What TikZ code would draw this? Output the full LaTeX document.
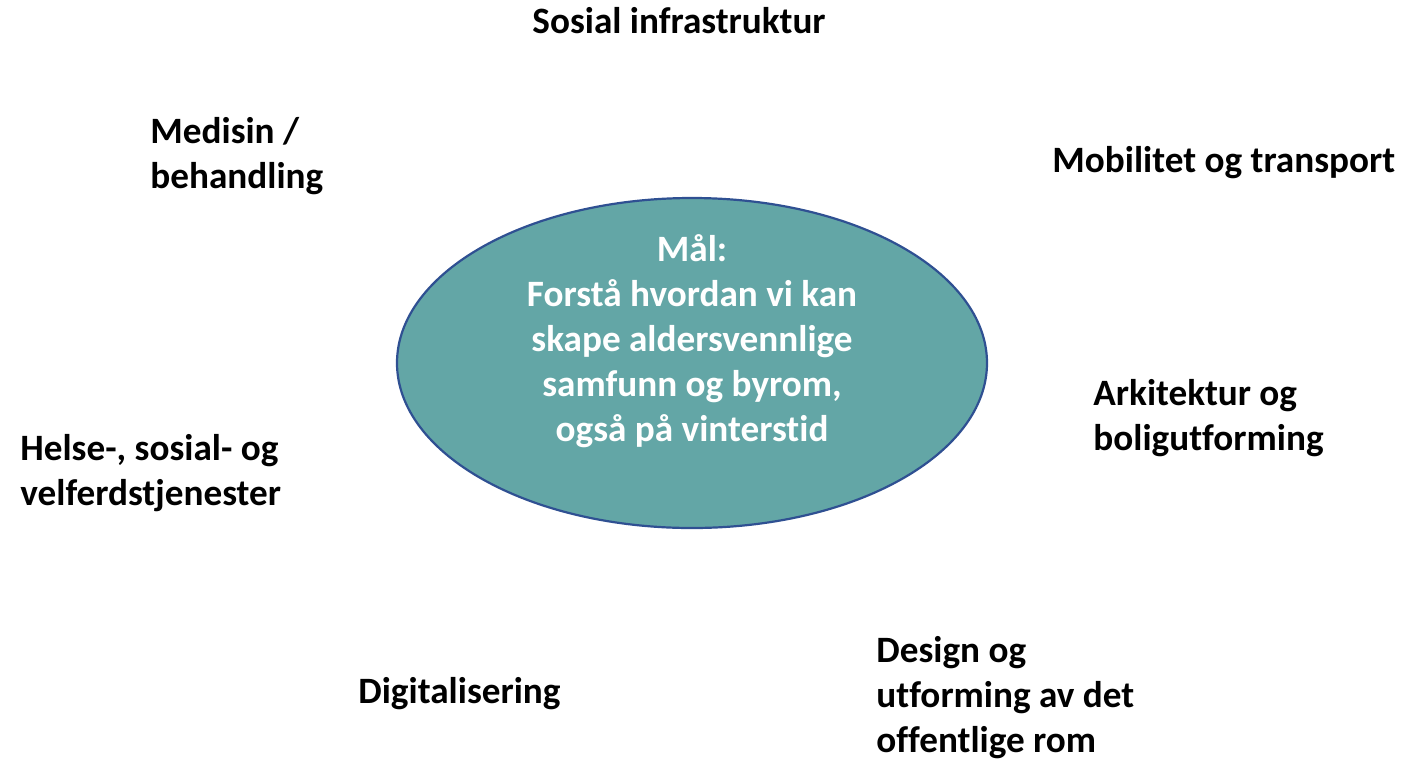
\documentclass[tikz,border=0pt]{standalone}
\usepackage{fontspec}
\setmainfont[Ligatures=NoCommon]{Carlito}
\usetikzlibrary{shapes.geometric,positioning}
\definecolor{goalfill}{RGB}{99,166,166}
\definecolor{goalline}{RGB}{47,80,146}

\begin{document}
\begin{tikzpicture}[
			x=0.5pt, y=-0.5pt,
			every node/.style={font=\fontsize{18.6}{22.4}\selectfont\bfseries, inner sep=0pt},
			goal/.style={ellipse, draw=goalline, fill=goalfill, line width=1.1pt, minimum width=295pt, minimum height=165pt},
			goaltext/.style={align=center, text=white, anchor=base},
			field/.style={align=left, anchor=base west}
		]
		\useasboundingbox (0,0) rectangle (1404,762);

		% goal in the middle (base = last line)
		\node (goal) [goal] at (692,363) {};
		\node (goaltxt) [goaltext] at (692,441) {Mål:\\Forstå hvordan vi kan\\skape aldersvennlige\\samfunn og byrom,\\også på vinterstid};

		% fields round it
		\node (sosial) [field] at (532,33) {Sosial infrastruktur};
		\node (medisin) [field] at (150,188) {Medisin /\\behandling};
		\node (mobilitet) [field] at (1052,172) {Mobilitet og transport};
		\node (arkitektur) [field] at (1093,450) {Arkitektur og\\boligutforming};
		\node (helse) [field] at (20,505) {Helse-, sosial- og\\velferdstjenester};
		\node (digital) [field] at (358,703) {Digitalisering};
		\node (design) [field] at (876,752) {Design og\\utforming av det\\offentlige rom};
	\end{tikzpicture}
\end{document}
